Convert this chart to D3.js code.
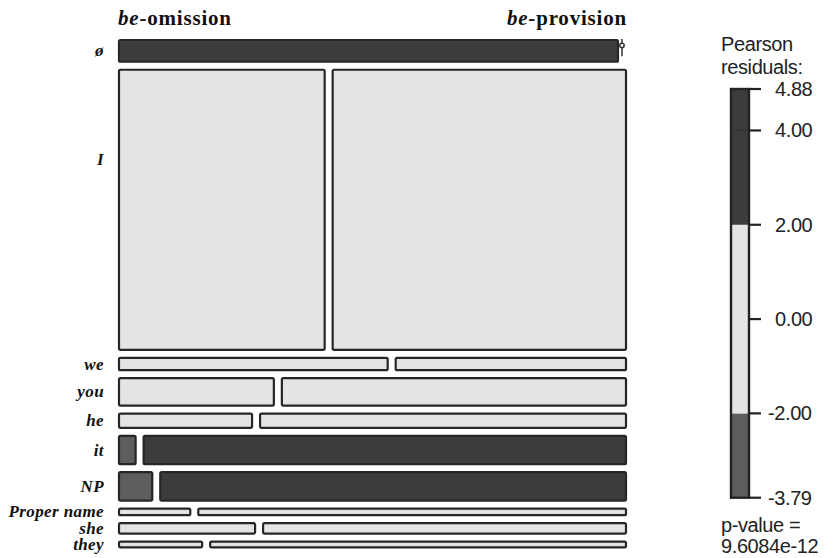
<!DOCTYPE html>
<html>
<head>
<meta charset="utf-8">
<script src="https://cdn.jsdelivr.net/npm/d3@7"></script>
<style>
  html, body { margin: 0; padding: 0; background: #fff; }
  svg { display: block; }
</style>
</head>
<body>
<svg id="chart" width="834" height="558"></svg>
<script>
// Subject type by copula realisation: observed counts
const subjects  = ["ø", "I", "we", "you", "he", "it", "NP", "Proper name", "she", "they"];
const forms     = ["be-omission", "be-provision"];
const omission  = [23, 122, 7, 9, 4, 1, 2, 1, 3, 1];
const provision = [0, 174, 6, 20, 11, 29, 28, 6, 8, 5];
const legendTicks = [4, 2, 0, -2];
const pValueText = "9.6084e-12";

const svg = d3.select("#chart");

const plot = { left: 119, right: 626, top: 40, bottom: 547.3, gap: 8 };

const rowTotals = subjects.map((_, i) => omission[i] + provision[i]);
const colTotals = [d3.sum(omission), d3.sum(provision)];
const N = d3.sum(rowTotals);

// Pearson residuals for each cell
const cells = [];
subjects.forEach((s, i) => {
  [omission[i], provision[i]].forEach((obs, j) => {
    const exp = rowTotals[i] * colTotals[j] / N;
    cells.push({ row: i, col: j, obs, res: (obs - exp) / Math.sqrt(exp) });
  });
});
const resMax = d3.max(cells, d => d.res);
const resMin = d3.min(cells, d => d.res);

const shade = r => r > 2 ? "#3c3c3c" : (r < -2 ? "#5e5e5e" : "#e4e4e4");

// Vertical split: rows proportional to subject totals
const totalRowSpace = (plot.bottom - plot.top) - plot.gap * (subjects.length - 1);
const yScale = d3.scaleLinear().domain([0, N]).range([0, totalRowSpace]);
const rowY = [];
let acc = plot.top;
rowTotals.forEach((t, i) => {
  rowY.push({ y: acc, h: yScale(t) });
  acc += yScale(t) + plot.gap;
});

// Horizontal split inside each row
const colSpace = (plot.right - plot.left) - plot.gap;
const xScale = d3.scaleLinear().domain([0, 1]).range([0, colSpace]);

const g = svg.append("g");
cells.forEach(c => {
  const r = rowY[c.row];
  const p = c.obs / rowTotals[c.row];
  const startFrac = c.col === 0 ? 0 : omission[c.row] / rowTotals[c.row];
  const x = plot.left + xScale(startFrac) + (c.col === 1 ? plot.gap : 0);
  const w = xScale(p);
  if (c.obs === 0) {
    // empty cell: a line with a small circle
    const zx = plot.left + xScale(startFrac) + plot.gap / 2;
    g.append("line")
      .attr("x1", zx).attr("x2", zx)
      .attr("y1", r.y - 1).attr("y2", r.y + r.h * 0.75)
      .attr("stroke", "#333").attr("stroke-width", 1.5);
    g.append("circle")
      .attr("cx", zx).attr("cy", r.y + r.h * 0.25)
      .attr("r", 2.2).attr("fill", "#fff")
      .attr("stroke", "#333").attr("stroke-width", 1.5);
    return;
  }
  g.append("rect")
    .attr("x", x).attr("y", r.y)
    .attr("width", w).attr("height", r.h)
    .attr("rx", 1.5).attr("ry", 1.5)
    .attr("fill", shade(c.res))
    .attr("stroke", "#262626")
    .attr("stroke-width", 2.2);
});

// Row labels (tall rows get their label in the upper part of the tile)
const labelY = i => rowY[i].h > 100 ? rowY[i].y + rowY[i].h * 0.32 : rowY[i].y + rowY[i].h / 2;
svg.append("g").selectAll("text")
  .data(subjects)
  .join("text")
  .attr("x", 104)
  .attr("y", (d, i) => labelY(i))
  .attr("text-anchor", "end")
  .attr("dominant-baseline", "central")
  .style("font-family", "'Liberation Serif', serif")
  .style("font-weight", "bold")
  .style("font-style", "italic")
  .style("font-size", "17px")
  .style("letter-spacing", "0.4px")
  .attr("fill", "#111")
  .text(d => d);

// Column labels: italic "be" followed by the upright rest
forms.forEach((f, j) => {
  const parts = f.split("-");
  const t = svg.append("text")
    .attr("x", j === 0 ? plot.left - 1 : plot.right + 1)
    .attr("y", 25)
    .attr("text-anchor", j === 0 ? "start" : "end")
    .style("font-family", "'Liberation Serif', serif")
    .style("font-weight", "bold")
    .style("font-size", "21px")
    .style("letter-spacing", "0.8px")
    .attr("fill", "#111");
  t.append("tspan").style("font-style", "italic").text(parts[0]);
  t.append("tspan").text("-" + parts[1]);
});

// Residual legend
const leg = { x: 731, w: 18, top: 89, bottom: 497.7 };
const ls = d3.scaleLinear().domain([resMin, resMax]).range([leg.bottom, leg.top]);
const bands = [
  [resMin, -2, "#5e5e5e"],
  [-2, 0, "#e4e4e4"],
  [0, 2, "#e4e4e4"],
  [2, 4, "#3c3c3c"],
  [4, resMax, "#3c3c3c"]
];
const lg = svg.append("g");
bands.forEach(b => {
  lg.append("rect")
    .attr("x", leg.x).attr("y", ls(b[1]))
    .attr("width", leg.w).attr("height", ls(b[0]) - ls(b[1]))
    .attr("fill", b[2]);
});
lg.append("line")
  .attr("x1", leg.x).attr("x2", leg.x + leg.w)
  .attr("y1", ls(4)).attr("y2", ls(4))
  .attr("stroke", "#222").attr("stroke-width", 0.8);
lg.append("rect")
  .attr("x", leg.x).attr("y", leg.top)
  .attr("width", leg.w).attr("height", leg.bottom - leg.top)
  .attr("fill", "none").attr("stroke", "#222").attr("stroke-width", 2.4);

const tickVals = [resMax, ...legendTicks, resMin];
tickVals.forEach(v => {
  const y = ls(v);
  lg.append("line")
    .attr("x1", leg.x + leg.w).attr("x2", leg.x + leg.w + 12)
    .attr("y1", y).attr("y2", y)
    .attr("stroke", "#222").attr("stroke-width", 2.2);
  lg.append("text")
    .attr("x", v < 0 ? 768 : 775)
    .attr("y", y)
    .attr("dominant-baseline", "central")
    .style("font-family", "'Liberation Sans', Arial, sans-serif")
    .style("font-size", "20px")
    .style("letter-spacing", "-0.4px")
    .attr("fill", "#222")
    .text(v.toFixed(2));
});

const legText = (txt, y) => svg.append("text")
  .attr("x", 721).attr("y", y)
  .style("font-family", "'Liberation Sans', Arial, sans-serif")
  .style("font-size", "20px")
  .style("letter-spacing", "-0.4px")
  .attr("fill", "#222")
  .text(txt);
legText("Pearson", 51);
legText("residuals:", 74);
legText("p-value =", 532);
legText(pValueText, 553);
</script>
</body>
</html>
